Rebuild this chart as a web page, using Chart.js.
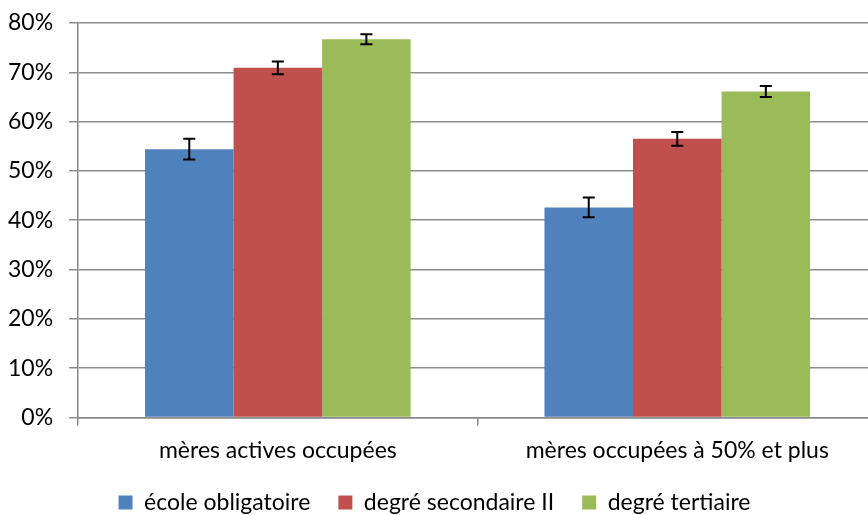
<!DOCTYPE html>
<html>
<head>
<meta charset="utf-8">
<script src="https://cdn.jsdelivr.net/npm/chart.js@4"></script>
<style>
  body { margin: 0; overflow: hidden; background: #fff; }
  #wrap { width: 868px; height: 515px; overflow: hidden; }
</style>
</head>
<body>
<div id="wrap"><canvas id="chart" width="908" height="515"></canvas></div>
<script>
var categories = ["mères actives occupées", "mères occupées à 50% et plus"];
var seriesNames = ["école obligatoire", "degré secondaire II", "degré tertiaire"];
var ecoleObligatoire = [54.4, 42.6];
var ecoleErr = [2.1, 2.0];
var secondaire = [70.9, 56.5];
var secondaireErr = [1.3, 1.4];
var tertiaire = [76.7, 66.1];
var tertiaireErr = [1.0, 1.1];
var yTicks = [0, 10, 20, 30, 40, 50, 60, 70, 80];

var colors = ["#4F81BD", "#C0504D", "#9BBB59"];
var errors = [ecoleErr, secondaireErr, tertiaireErr];

// draw the error bars on top of each bar
var errorBars = {
  id: "errorBars",
  afterDatasetsDraw: function (chart) {
    var c = chart.ctx;
    var y = chart.scales.y;
    c.save();
    c.strokeStyle = "#000";
    c.lineWidth = 2;
    chart.data.datasets.forEach(function (ds, i) {
      var meta = chart.getDatasetMeta(i);
      meta.data.forEach(function (bar, j) {
        var top = y.getPixelForValue(ds.data[j] + errors[i][j]);
        var bot = y.getPixelForValue(ds.data[j] - errors[i][j]);
        c.beginPath();
        c.moveTo(bar.x, top); c.lineTo(bar.x, bot);
        c.moveTo(bar.x - 6, top); c.lineTo(bar.x + 6, top);
        c.moveTo(bar.x - 6, bot); c.lineTo(bar.x + 6, bot);
        c.stroke();
      });
    });
    c.restore();
  }
};

Chart.defaults.font.family = "Lato, 'Open Sans', sans-serif";
Chart.defaults.font.size = 23;
Chart.defaults.color = "#000";

new Chart(document.getElementById("chart"), {
  type: "bar",
  data: {
    labels: categories,
    datasets: [
      { label: seriesNames[0], data: ecoleObligatoire, backgroundColor: colors[0] },
      { label: seriesNames[1], data: secondaire, backgroundColor: colors[1] },
      { label: seriesNames[2], data: tertiaire, backgroundColor: colors[2] }
    ]
  },
  options: {
    responsive: false,
    animation: false,
    layout: { padding: { top: 23, left: -8, right: 31, bottom: 0 } },
    datasets: { bar: { categoryPercentage: 0.665, barPercentage: 1 } },
    plugins: {
      legend: {
        position: "bottom",
        maxHeight: 52,
        labels: { boxWidth: 14, boxHeight: 14, padding: 28 }
      },
      tooltip: { enabled: false }
    },
    scales: {
      x: {
        grid: { offset: true, drawOnChartArea: false, color: "#888", lineWidth: 1.5, tickLength: 8 },
        border: { color: "#888", width: 1.5 },
        ticks: { padding: 11 },
        afterFit: function (scale) { scale.height -= 12; }
      },
      y: {
        min: 0, max: 80,
        afterBuildTicks: function (axis) { axis.ticks = yTicks.map(function (v) { return { value: v }; }); },
        afterFit: function (scale) { scale.paddingTop = 0; },
        grid: { color: "#8c8c8c", lineWidth: 1.5, tickLength: 9 },
        border: { color: "#888", width: 1.5 },
        ticks: { padding: 16, callback: function (v) { return v + "%"; } }
      }
    }
  },
  plugins: [errorBars]
});
</script>
</body>
</html>
